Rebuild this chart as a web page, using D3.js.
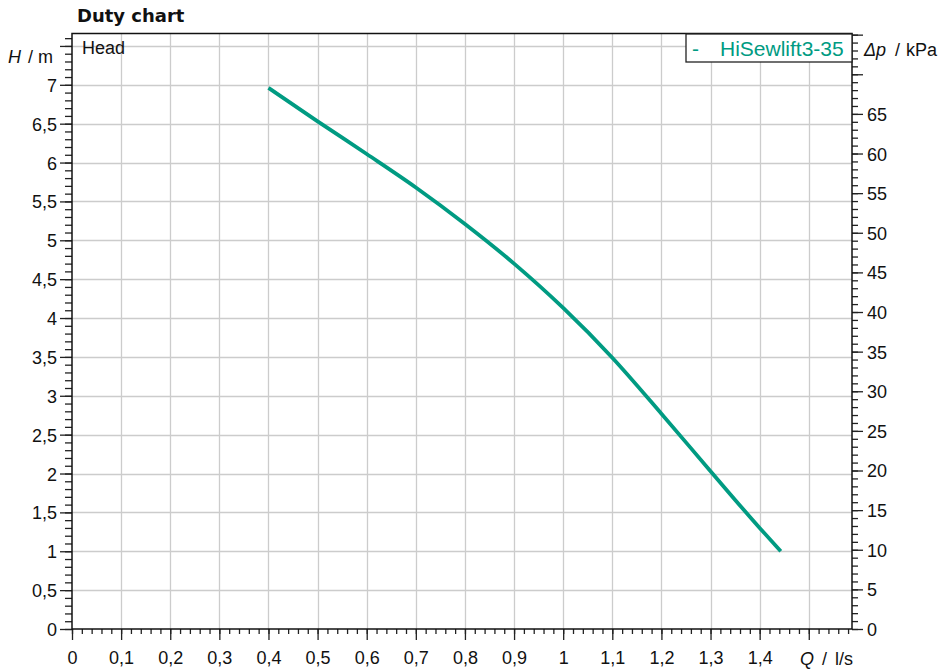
<!DOCTYPE html>
<html><head><meta charset="utf-8">
<script src="https://cdn.jsdelivr.net/npm/d3@7"></script>
<style>
html,body{margin:0;padding:0;background:#fff;}
</style></head>
<body>
<svg id="chart" width="940" height="672"></svg>
<script>
// ---- data ----
const flowQ = [0.4, 0.5, 0.6, 0.7, 0.8, 0.9, 1.0, 1.1, 1.2, 1.3, 1.4, 1.443];
const headH = [6.96, 6.53, 6.11, 5.68, 5.21, 4.70, 4.13, 3.49, 2.77, 2.03, 1.30, 1.00];
const seriesName = "HiSewlift3-35";
const xTicks = [0,0.1,0.2,0.3,0.4,0.5,0.6,0.7,0.8,0.9,1.0,1.1,1.2,1.3,1.4,1.5];
const yTicks = [0,0.5,1,1.5,2,2.5,3,3.5,4,4.5,5,5.5,6,6.5,7,7.5];
const pTicks = [0,5,10,15,20,25,30,35,40,45,50,55,60,65,70,75];
const xHidden = [1.5], yHidden = [7.5], pHidden = [70, 75];
const kPaPerM = 9.81;

const color = "#009b82";
const FONT = "'Liberation Sans', Arial, sans-serif";
const svg = d3.select("#chart").attr("font-family", FONT);
const L = 72, R = 852, T = 33.5, B = 629;
const xMax = 1.588, yMax = 7.66;
const x = d3.scaleLinear().domain([0, xMax]).range([L, R]);
const y = d3.scaleLinear().domain([0, yMax]).range([B, T]);
const yp = d3.scaleLinear().domain([0, yMax * kPaPerM]).range([B, T]);
const fmt = v => String(+v.toFixed(2)).replace(".", ",");

// grid
const g = svg.append("g");
g.selectAll("line.v").data(xTicks.filter(d => d > 0)).join("line")
  .attr("x1", d => Math.round(x(d)) + 0.5).attr("x2", d => Math.round(x(d)) + 0.5)
  .attr("y1", T).attr("y2", B).attr("stroke", "#cccccc").attr("stroke-width", 1.3);
g.selectAll("line.h").data(yTicks.filter(d => d > 0)).join("line")
  .attr("y1", d => Math.round(y(d)) + 0.5).attr("y2", d => Math.round(y(d)) + 0.5)
  .attr("x1", L).attr("x2", R).attr("stroke", "#cccccc").attr("stroke-width", 1.3);

// minor ticks
const minorX = d3.range(0, 80).map(i => i * 0.02).filter(d => d <= xMax);
const minorY = d3.range(0, 77).map(i => i * 0.1).filter(d => d <= yMax + 1e-9);
const minorP = d3.range(0, 76);
function styleAxis(sel) {
  sel.select(".domain").remove();
  sel.attr("font-family", FONT).attr("font-size", 18);
  sel.selectAll("line").attr("stroke", "#222").attr("stroke-width", 1.3);
  sel.selectAll("text").attr("fill", "#111");
}
svg.append("g").attr("transform", `translate(${L},0)`)
  .call(d3.axisLeft(y).tickValues(minorY).tickSize(7).tickFormat("")).call(styleAxis);
svg.append("g").attr("transform", `translate(0,${B})`)
  .call(d3.axisBottom(x).tickValues(minorX).tickSize(5).tickFormat("")).call(styleAxis);
svg.append("g").attr("transform", `translate(${R},0)`)
  .call(d3.axisRight(yp).tickValues(minorP).tickSize(6).tickFormat("")).call(styleAxis);

// major ticks
svg.append("g").attr("transform", `translate(${L},0)`)
  .call(d3.axisLeft(y).tickValues(yTicks).tickSize(12).tickPadding(3)
    .tickFormat(d => yHidden.includes(d) ? "" : fmt(d))).call(styleAxis)
  .selectAll("text").attr("dy", "0.36em");
svg.append("g").attr("transform", `translate(0,${B})`)
  .call(d3.axisBottom(x).tickValues(xTicks).tickSize(11).tickPadding(11)
    .tickFormat(d => xHidden.includes(d) ? "" : fmt(d))).call(styleAxis);
svg.append("g").attr("transform", `translate(${R},0)`)
  .call(d3.axisRight(yp).tickValues(pTicks).tickSize(11).tickPadding(4)
    .tickFormat(d => pHidden.includes(d) ? "" : fmt(d))).call(styleAxis)
  .selectAll("text").attr("dy", "0.36em");

// frame
svg.append("rect").attr("x", L).attr("y", T).attr("width", R - L).attr("height", B - T)
  .attr("fill", "none").attr("stroke", "#111").attr("stroke-width", 1.5);

// curve
const pts = flowQ.map((q, i) => [q, headH[i]]);
svg.append("path").datum(pts)
  .attr("d", d3.line().x(d => x(d[0])).y(d => y(d[1])).curve(d3.curveMonotoneX))
  .attr("fill", "none").attr("stroke", color).attr("stroke-width", 3.8);

// legend
svg.append("rect").attr("x", 686).attr("y", 34).attr("width", 166).attr("height", 28)
  .attr("fill", "#fff").attr("stroke", "#222").attr("stroke-width", 1.3);
svg.append("text").attr("x", 692).attr("y", 56).attr("font-size", 21).attr("fill", color).text("-");
svg.append("text").attr("x", 720).attr("y", 56).attr("font-size", 21).attr("fill", color).text(seriesName);

// labels
svg.append("text").attr("x", 77).attr("y", 22).attr("font-size", 18).attr("font-weight", "bold")
  .attr("font-family", "'DejaVu Sans', Verdana, sans-serif").attr("fill", "#111").text("Duty chart");
svg.append("text").attr("x", 82).attr("y", 54).attr("font-size", 18).attr("fill", "#111").text("Head");

function unitLabel(parts, yPos) {
  const t = svg.append("text").attr("y", yPos).attr("font-size", 18).attr("fill", "#111");
  parts.forEach(p => t.append("tspan").attr("x", p[0]).attr("font-style", p[2] ? "italic" : null).text(p[1]));
}
unitLabel([[8, "H", true], [28, "/"], [38, "m"]], 63);
unitLabel([[864, "\u0394p", true], [895, "/"], [906, "kPa"]], 56);
unitLabel([[800, "Q", true], [822, "/"], [835, "l/s"]], 665);
</script>
</body></html>
